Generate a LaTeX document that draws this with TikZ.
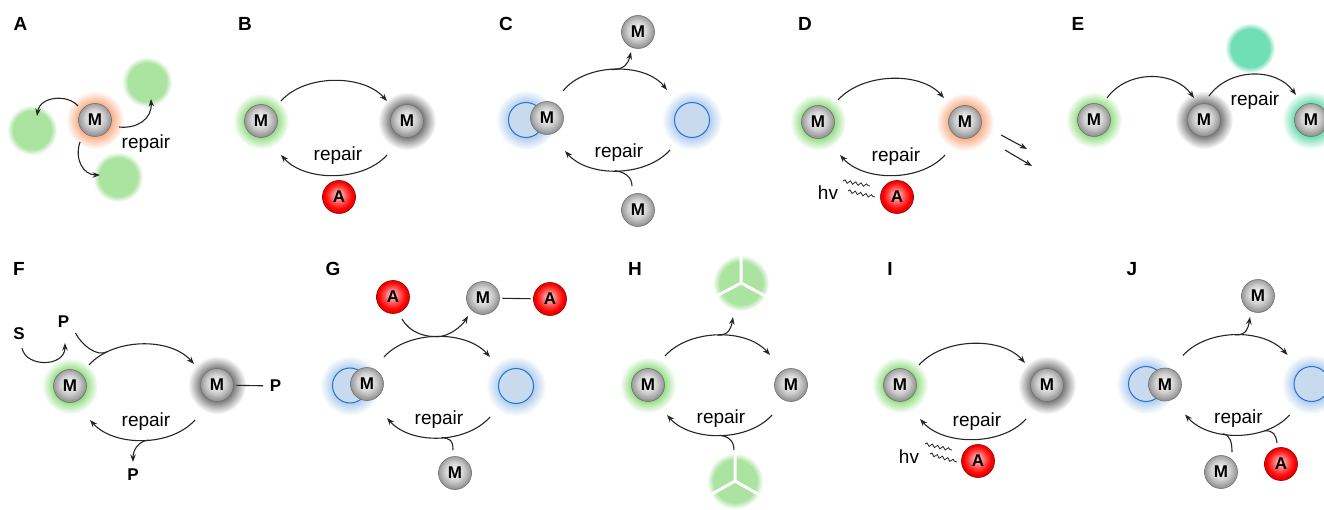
\documentclass[tikz,border=0pt]{standalone}
\usepackage{fontspec}
\setmainfont{Liberation Sans}
\usetikzlibrary{arrows.meta,fadings,backgrounds,calc,decorations.pathmorphing}

\definecolor{glowgreen}{RGB}{125,215,105}
\definecolor{blobgreen}{RGB}{170,228,160}
\definecolor{glowgrey}{RGB}{100,100,100}
\definecolor{gloworange}{RGB}{250,160,115}
\definecolor{tealblob}{RGB}{112,222,182}
\definecolor{tealglow}{RGB}{80,215,165}
\definecolor{blueglow}{RGB}{160,195,235}
\definecolor{bluefill}{RGB}{200,218,238}
\definecolor{blueline}{RGB}{35,115,210}

% soft halo and soft-edged blob (path box maps to the central 50bp square)
\pgfdeclareradialshading{glowfadeshade}{\pgfpointorigin}{color(0bp)=(pgftransparent!0); color(12bp)=(pgftransparent!0); color(25bp)=(pgftransparent!100); color(50bp)=(pgftransparent!100)}
\pgfdeclarefading{glowfade}{\pgfuseshading{glowfadeshade}}
\pgfdeclareradialshading{blobfadeshade}{\pgfpointorigin}{color(0bp)=(pgftransparent!0); color(19bp)=(pgftransparent!0); color(25bp)=(pgftransparent!100); color(50bp)=(pgftransparent!100)}
\pgfdeclarefading{blobfade}{\pgfuseshading{blobfadeshade}}
% spheres
\pgfdeclareradialshading{mball}{\pgfpoint{-1.5bp}{3.5bp}}{color(0bp)=(black!3); color(5bp)=(black!7); color(14bp)=(black!18); color(21bp)=(black!33); color(25bp)=(black!42); color(50bp)=(black!42)}
\pgfdeclareradialshading{aball}{\pgfpoint{-1.5bp}{3.5bp}}{color(0bp)=(red!25!white); color(5bp)=(red!35!white); color(14bp)=(red!75!white); color(21bp)=(red); color(25bp)=(red!92!black); color(50bp)=(red!92!black)}

\tikzset{
  ball/.style={circle, minimum size=33pt, inner sep=0pt, draw=black!55, line width=0.6pt,
    shade, shading=mball, font=\fontsize{17}{17}\selectfont\bfseries},
  redball/.style={ball, shading=aball, draw=red!55!black},
  bluecirc/.style={circle, minimum size=35pt, inner sep=0pt, fill=bluefill, draw=blueline, line width=1pt},
  cyc/.style={line width=1.1pt, draw=black!85, -{Stealth[length=7.5pt,width=5.5pt]}},
  link/.style={line width=1.1pt, draw=black!85},
  panel/.style={font=\fontsize{19}{19}\selectfont\bfseries, inner sep=0pt},
  word/.style={font=\fontsize{19}{19}\selectfont, inner sep=0pt},
  chem/.style={font=\fontsize{17}{17}\selectfont\bfseries, inner sep=2pt},
  wave/.style={line width=0.8pt, draw=black!85, decorate, decoration={snake, amplitude=1.5pt, segment length=5.5pt}},
  glow/.style={fill=#1, path fading=glowfade},
  blob/.style={fill=#1, path fading=blobfade},
}

\begin{document}
\begin{tikzpicture}[x=1pt,y=-1pt]
\begin{scope}[on background layer]
  \fill[white] (0,0) rectangle (1324,510);
\end{scope}
\useasboundingbox (0,0) rectangle (1324,510);

% ---------------- A ----------------
\node[panel] (pA) at (20.5,24) {A};
\node[ball] (aM) at (95,120) {M};
\coordinate (aG1) at (147,82);
\coordinate (aG2) at (32,130);
\coordinate (aG3) at (118,177);
\node[word] (aRep) at (146,144) {repair};
\draw[cyc] ($(aM)+(-17,-14)$) .. controls +(-10,-12) and +(3,-20) .. ($(aG2)+(5,-14)$);
\draw[cyc] ($(aM)+(24,7)$) .. controls +(18,2) and +(1,20) .. ($(aG1)+(4,17)$);
\draw[cyc] ($(aM)+(-15,22)$) .. controls +(-6,18) and +(-16,0) .. ($(aG3)+(-18,-2)$);

% ---------------- B ----------------
\node[panel] (pB) at (245,24) {B};
\node[ball] (bL) at (261,121) {M};
\node[ball] (bR) at (407,121) {M};
\node[redball] (bA) at (339,197) {A};
\node[word] (bRep) at (338,156) {repair};
\draw[cyc] ($(bL)+(20,-20)$) .. controls +(24,-27) and +(-24,-27) .. ($(bR)+(-20,-20)$);
\draw[cyc] ($(bR)+(-20,34)$) .. controls +(-24,27) and +(24,27) .. ($(bL)+(20,34)$);

% ---------------- C ----------------
\node[panel] (pC) at (506,24) {C};
\node[bluecirc] (cLc) at (526,120) {};
\node[ball] (cLm) at (547,118) {M};
\node[bluecirc] (cRc) at (692,120) {};
\node[ball] (cTop) at (638,32) {M};
\node[ball] (cBot) at (638,210) {M};
\node[word] (cRep) at (619,153) {repair};
\draw[cyc] ($(cLm)+(16,-27)$) .. controls +(22,-28) and +(-22,-28) .. ($(cRc)+(-25,-30)$) coordinate[pos=0.47] (cTa);
\draw[cyc] (cTa) .. controls +(13,0) and +(-3,12) .. ($(cTop)+(-7,20)$);
\draw[cyc] ($(cRc)+(-22,30)$) .. controls +(-24,27) and +(24,27) .. ($(cLm)+(18,33)$) coordinate[pos=0.52] (cBa);
\draw[link] ($(cBot)+(-6,-24)$) .. controls +(0,-10) and +(8,1) .. (cBa);

% ---------------- D ----------------
\node[panel] (pD) at (805,24) {D};
\node[ball] (dL) at (818,122) {M};
\node[ball] (dR) at (965,122) {M};
\node[redball] (dA) at (897,197) {A};
\node[word] (dRep) at (896,157) {repair};
\node[word] (dHv) at (828,193) {hv};
\draw[cyc] ($(dL)+(20,-22)$) .. controls +(24,-27) and +(-24,-27) .. ($(dR)+(-21,-24)$);
\draw[cyc] ($(dR)+(-20,33)$) .. controls +(-24,27) and +(24,27) .. ($(dL)+(22,33)$);
\coordinate (dS1) at (1001,135);
\coordinate (dE1) at (1027,149);
\coordinate (dS2) at (1005,150);
\coordinate (dE2) at (1032,166);
\draw[cyc] (dS1) -- (dE1);
\draw[cyc] (dS2) -- (dE2);
\coordinate (dW1) at (843,181);
\coordinate (dW2) at (848,191);
\draw[wave] (dW1) -- +(27,5);
\draw[wave] (dW2) -- +(27,6);

% ---------------- E ----------------
\node[panel] (pE) at (1078,24) {E};
\node[ball] (eL) at (1094,120) {M};
\node[ball] (eM) at (1204,120) {M};
\node[ball] (eR) at (1311,120) {M};
\coordinate (eT) at (1250,48);
\node[word] (eRep) at (1255,101) {repair};
\draw[cyc] ($(eL)+(13,-22)$) .. controls +(20,-28) and +(-20,-28) .. ($(eM)+(-10,-22)$);
\draw[cyc] ($(eM)+(5,-24)$) .. controls +(20,-28) and +(-20,-28) .. ($(eR)+(-15,-25)$);

% ---------------- F ----------------
\node[panel] (pF) at (19,268.5) {F};
\node[chem] (fS) at (19,334) {S};
\node[chem] (fP1) at (63.5,322) {P};
\node[ball] (fL) at (70,386) {M};
\node[ball] (fR) at (217,385) {M};
\node[chem] (fP2) at (275.5,386) {P};
\node[chem] (fP3) at (133,475) {P};
\node[word] (fRep) at (146,422) {repair};
\draw[cyc] ($(fS)+(3,14)$) .. controls +(4,20) and +(0,24) .. ($(fP1)+(1.5,21)$);
\draw[cyc] ($(fL)+(19,-21)$) .. controls +(24,-27) and +(-24,-27) .. ($(fR)+(-23,-21)$) coordinate[pos=0.2] (fTa);
\draw[link] ($(fP1)+(12,11)$) .. controls +(6,12) and +(-10,5) .. (fTa);
\draw[link, shorten <=2.5pt, shorten >=4.5pt] (fR) -- (fP2);
\draw[cyc] ($(fR)+(-22,35)$) .. controls +(-24,27) and +(24,27) .. ($(fL)+(20,34)$) coordinate[pos=0.45] (fBa);
\draw[cyc] (fBa) .. controls +(-10,1) and +(0,-12) .. ($(fP3)+(0,-13)$);

% ---------------- G ----------------
\node[panel] (pG) at (333,268.5) {G};
\node[redball] (gA1) at (393,297) {A};
\node[ball] (gM) at (483,298) {M};
\node[redball] (gA2) at (550,299) {A};
\node[bluecirc] (gLc) at (350,385.5) {};
\node[ball] (gLm) at (367,384) {M};
\node[bluecirc] (gRc) at (516,386) {};
\node[ball] (gBot) at (455,473) {M};
\node[word] (gRep) at (439,420) {repair};
\draw[link, shorten <=2.5pt, shorten >=2.5pt] (gM) -- (gA2);
\draw[cyc] ($(gLm)+(17,-27)$) .. controls +(24,-27) and +(-24,-27) .. ($(gRc)+(-26,-29)$) coordinate[pos=0.5] (gTa);
\draw[cyc] ($(gA1)+(9,22)$) .. controls +(8,14) and +(-12,0) .. (gTa) .. controls +(12,0) and +(-6,10) .. ($(gM)+(-15,18)$);
\draw[cyc] ($(gRc)+(-26,31)$) .. controls +(-24,27) and +(24,27) .. ($(gLm)+(20,34)$) coordinate[pos=0.47] (gBa);
\draw[link] ($(gBot)+(-2,-23)$) .. controls +(0,-10) and +(8,1) .. (gBa);

% ---------------- H ----------------
\node[panel] (pH) at (635,269) {H};
\coordinate (hT) at (741,283);
\coordinate (hB) at (735,481);
\node[ball] (hL) at (648,385) {M};
\node[ball] (hR) at (791,385) {M};
\node[word] (hRep) at (721,419) {repair};
\draw[cyc] ($(hL)+(17,-29)$) .. controls +(24,-27) and +(-24,-27) .. ($(hR)+(-21,-30)$) coordinate[pos=0.5] (hTa);
\draw[cyc] (hTa) .. controls +(11,0) and +(-2,12) .. ($(hT)+(-8,34)$);
\draw[cyc] ($(hR)+(-19,30)$) .. controls +(-24,27) and +(24,27) .. ($(hL)+(19,30)$) coordinate[pos=0.5] (hBa);
\draw[link] ($(hB)+(-1,-31)$) .. controls +(0,-10) and +(8,1) .. (hBa);

% ---------------- I ----------------
\node[panel] (pI) at (890,269) {I};
\node[ball] (iL) at (900,385) {M};
\node[ball] (iR) at (1047,385) {M};
\node[redball] (iA) at (978,461) {A};
\node[word] (iRep) at (977,422) {repair};
\node[word] (iHv) at (909,456.5) {hv};
\draw[cyc] ($(iL)+(19,-20)$) .. controls +(24,-27) and +(-24,-27) .. ($(iR)+(-22,-22)$);
\draw[cyc] ($(iR)+(-21,34)$) .. controls +(-24,27) and +(24,27) .. ($(iL)+(20,34)$);
\coordinate (iW1) at (925,444);
\coordinate (iW2) at (930,454);
\draw[wave] (iW1) -- +(27,6);
\draw[wave] (iW2) -- +(27,8);

% ---------------- J ----------------
\node[panel] (pJ) at (1132,269) {J};
\node[ball] (jTop) at (1258,296) {M};
\node[bluecirc] (jLc) at (1146,384) {};
\node[ball] (jLm) at (1165,384.5) {M};
\node[bluecirc] (jRc) at (1311.5,384) {};
\node[ball] (jBot) at (1221,472) {M};
\node[redball] (jA) at (1281,464) {A};
\node[word] (jRep) at (1238.5,418.5) {repair};
\draw[cyc] ($(jLm)+(18,-29)$) .. controls +(24,-27) and +(-24,-27) .. ($(jRc)+(-24,-29)$) coordinate[pos=0.5] (jTa);
\draw[cyc] (jTa) .. controls +(11,0) and +(-2,12) .. ($(jTop)+(-8,21)$);
\draw[cyc] ($(jRc)+(-22,31)$) .. controls +(-24,27) and +(24,27) .. ($(jLm)+(20,30)$)
   coordinate[pos=0.27] (jBa1) coordinate[pos=0.62] (jBa2);
\draw[link] ($(jBot)+(11,-20)$) .. controls +(0,-10) and +(7,1) .. (jBa2);
\draw[link] ($(jA)+(-4,-21)$) .. controls +(-1,-8) and +(9,-1) .. (jBa1);

% ---------------- halos and blobs ----------------
\begin{scope}[on background layer]
  \fill[glow=gloworange] (aM.center) circle (29pt);
  \fill[blob=blobgreen] (aG1) circle (25pt);
  \fill[blob=blobgreen] (aG2) circle (25pt);
  \fill[blob=blobgreen] (aG3) circle (25pt);

  \fill[glow=glowgreen] (bL.center) circle (28pt);
  \fill[glow=glowgrey] (bR.center) circle (29pt);

  \fill[glow=blueglow] (cLc.center) circle (30pt);
  \fill[glow=blueglow] (cRc.center) circle (30pt);

  \fill[glow=glowgreen] (dL.center) circle (28pt);
  \fill[glow=gloworange] (dR.center) circle (29pt);

  \fill[blob=tealblob] (eT) circle (25pt);
  \fill[glow=glowgreen] (eL.center) circle (28pt);
  \fill[glow=glowgrey] (eM.center) circle (29pt);
  \fill[glow=tealglow] (eR.center) circle (29pt);

  \fill[glow=glowgreen] (fL.center) circle (28pt);
  \fill[glow=glowgrey] (fR.center) circle (29pt);

  \fill[glow=blueglow] (gLc.center) circle (30pt);
  \fill[glow=blueglow] (gRc.center) circle (30pt);

  \fill[blob=blobgreen] (hT) circle (28pt);
  \fill[blob=blobgreen] (hB) circle (28pt);
  \draw[white, line width=3pt] (hT) -- +(0,-32) (hT) -- +(-30,16) (hT) -- +(30,16);
  \draw[white, line width=3pt] (hB) -- +(0,-32) (hB) -- +(-30,17) (hB) -- +(30,17);
  \fill[glow=glowgreen] (hL.center) circle (28pt);

  \fill[glow=glowgreen] (iL.center) circle (28pt);
  \fill[glow=glowgrey] (iR.center) circle (29pt);

  \fill[glow=blueglow] (jLc.center) circle (30pt);
  \fill[glow=blueglow] (jRc.center) circle (30pt);
\end{scope}
\end{tikzpicture}
\end{document}
